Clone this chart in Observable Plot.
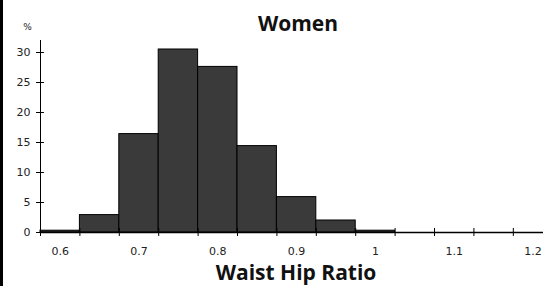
<!DOCTYPE html>
<html>
<head>
<meta charset="utf-8">
<script src="https://cdn.jsdelivr.net/npm/d3@7"></script>
<script src="https://cdn.jsdelivr.net/npm/@observablehq/plot@0.6"></script>
<style>
  html, body { margin: 0; padding: 0; background: #fff; }
  #wrap { position: relative; width: 543px; height: 286px; overflow: hidden; }
  #edge { position: absolute; left: 0; top: 0; width: 3px; height: 286px; background: #000; }
</style>
</head>
<body>
<div id="wrap"><div id="edge"></div></div>
<script>
// Bin centers (waist-hip ratio) and percentage of women in each bin
const binCenters = [0.6, 0.65, 0.7, 0.75, 0.8, 0.85, 0.9, 0.95, 1.0];
const percents   = [0.3, 2.9, 16.4, 30.5, 27.6, 14.4, 5.9, 2.0, 0.3];
const binWidth = 0.05;
// Tick marks sit on bin edges, labels at bin centers
const xTickEdges  = [0.575, 0.625, 0.675, 0.725, 0.775, 0.825, 0.875, 0.925, 0.975, 1.025, 1.075, 1.125, 1.175];
const xTickLabels = [0.6, 0.7, 0.8, 0.9, 1.0, 1.1, 1.2];
const yTicks      = [0, 5, 10, 15, 20, 25, 30];
const titleText = "Women";
const xLabel = "Waist Hip Ratio";
const yUnit = "%";

const table = binCenters.map((c, i) => ({x1: c - binWidth / 2, x2: c + binWidth / 2, v: percents[i]}));
const xMin = 0.575, xMax = 1.2133, yMax = 32;
const boldFont = "'Open Sans', sans-serif";

const chart = Plot.plot({
  width: 543,
  height: 286,
  marginLeft: 40,
  marginRight: 0,
  marginTop: 40,
  marginBottom: 54,
  x: {domain: [xMin, xMax], axis: null},
  y: {domain: [0, yMax], axis: null},
  style: {fontFamily: "'DejaVu Sans', sans-serif", fontSize: "11px", background: "transparent", overflow: "visible"},
  marks: [
    Plot.rectY(table, {x1: "x1", x2: "x2", y: "v", fill: "#3a3a3a", stroke: "#000", strokeWidth: 1}),
    Plot.ruleY([0], {x1: xMin, x2: xMax, stroke: "#000", strokeWidth: 1.5}),
    Plot.ruleX([xMin], {y1: 0, y2: yMax, stroke: "#000", strokeWidth: 1}),
    Plot.ruleX(xTickEdges, {y1: -0.67, y2: 0.67, stroke: "#000", strokeWidth: 1}),
    Plot.ruleY(yTicks, {x1: xMin - 0.005, x2: xMin + 0.005, stroke: "#000", strokeWidth: 1}),
    Plot.text(yTicks, {x: xMin, y: d => d, dx: -10, textAnchor: "end", fill: "#222"}),
    Plot.text(xTickLabels, {x: d => d, y: 0, dy: 19, fill: "#222", text: d => String(d)}),
    Plot.text([yUnit], {x: xMin, y: yMax, dx: -13, dy: -13, fontSize: 9, fill: "#222"}),
    Plot.text([titleText], {frameAnchor: "top", dx: 6, dy: -10, lineAnchor: "bottom", fontFamily: boldFont, fontWeight: "bold", fontSize: 21, fill: "#111"}),
    Plot.text([xLabel], {frameAnchor: "bottom", dx: 4, dy: 47, lineAnchor: "bottom", fontFamily: boldFont, fontWeight: "bold", fontSize: 21, fill: "#111"})
  ]
});
document.getElementById("wrap").prepend(chart);
</script>
</body>
</html>
